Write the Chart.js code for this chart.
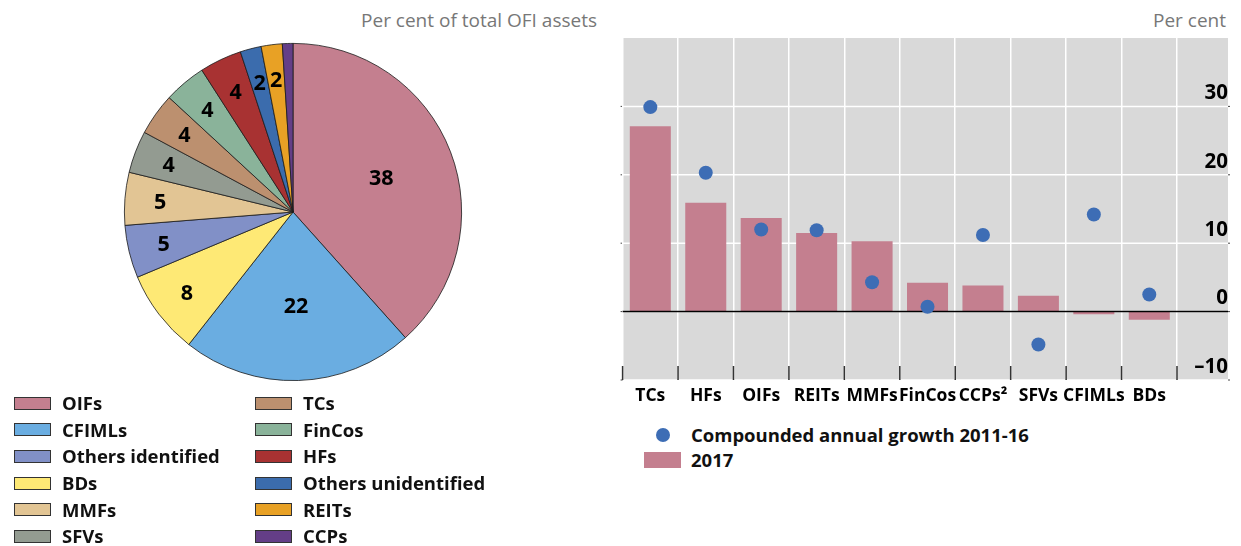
<!DOCTYPE html>
<html>
<head>
<meta charset="utf-8">
<script src="https://cdn.jsdelivr.net/npm/chart.js@4.4.1/dist/chart.umd.min.js"></script>
<style>
  body { margin: 0; width: 1241px; height: 546px; background: #fff; position: relative; overflow: hidden; font-family: "Open Sans", sans-serif; }
  #pieWrap { position: absolute; left: 0; top: 0; width: 600px; height: 400px; }
  #barWrap { position: absolute; left: 610px; top: 0; width: 631px; height: 420px; }
  .unit { position: absolute; top: 6px; font-size: 19px; color: #777; line-height: 28px; white-space: nowrap; }
  .leg { position: absolute; font-size: 18.5px; font-weight: 700; color: #111; line-height: 26px; white-space: nowrap; }
  .sw { position: absolute; box-sizing: border-box; }
</style>
</head>
<body>
<div class="unit" style="right:644px;">Per cent of total OFI assets</div>
<div class="unit" style="right:15px;">Per cent</div>
<div id="pieWrap"><canvas id="pie" width="600" height="400"></canvas></div>
<div id="barWrap"><canvas id="bars" width="631" height="420"></canvas></div>
<div id="pieLegend"></div>
<div id="barLegend"></div>

<script>
// Left panel: share of total OFI assets (slices in drawing order)
const pieLabels = ['OIFs', 'CFIMLs', 'BDs', 'Others identified', 'MMFs', 'SFVs', 'TCs', 'FinCos', 'HFs', 'Others unidentified', 'REITs', 'CCPs'];
const pieValues = [38, 22, 8, 5, 5, 4, 4, 4, 4, 2, 2, 1];
const pieColors = ['#C47F8F', '#6AADE1', '#FEE975', '#8190C7', '#E2C594', '#939B91', '#BC906F', '#8AB39A', '#A83232', '#3B6CAD', '#E8A125', '#643E87'];
// legend reads down the first column, then the second
const legendOrder = ['OIFs', 'CFIMLs', 'Others identified', 'BDs', 'MMFs', 'SFVs', 'TCs', 'FinCos', 'HFs', 'Others unidentified', 'REITs', 'CCPs'];

// Right panel: growth by sector
const sectors = ['TCs', 'HFs', 'OIFs', 'REITs', 'MMFs', 'FinCos', 'CCPs\u00b2', 'SFVs', 'CFIMLs', 'BDs'];
const growth2011to16 = [29.9, 20.3, 12.0, 11.9, 4.3, 0.7, 11.2, -4.8, 14.2, 2.5];
const growth2017 = [27.1, 15.9, 13.7, 11.5, 10.3, 4.2, 3.8, 2.3, -0.4, -1.2];
const yTicks = [-10, 0, 10, 20, 30];

const pink = '#C47F8F';
const blue = '#3D6DB5';

// values written inside the pie slices
const sliceValues = {
    id: 'sliceValues',
    afterDatasetsDraw(chart) {
        const ctx = chart.ctx;
        const meta = chart.getDatasetMeta(0);
        ctx.save();
        ctx.font = '700 21.5px "Open Sans"';
        ctx.fillStyle = '#000';
        ctx.textAlign = 'center';
        ctx.textBaseline = 'middle';
        meta.data.forEach((arc, i) => {
            const v = pieValues[i];
            if (v < 2) return;
            const p = arc.getProps(['x', 'y', 'startAngle', 'endAngle', 'outerRadius'], true);
            const mid = (p.startAngle + p.endAngle) / 2;
            const r = p.outerRadius * (v >= 20 ? 0.56 : 0.79);
            ctx.fillText(String(v), p.x + Math.cos(mid) * r, p.y + Math.sin(mid) * r + 1);
        });
        ctx.restore();
    }
};

new Chart(document.getElementById('pie').getContext('2d'), {
    type: 'pie',
    data: {
        labels: pieLabels,
        datasets: [{
            data: pieValues,
            backgroundColor: pieColors,
            borderColor: '#1a1a1a',
            borderWidth: 0.8
        }]
    },
    options: {
        responsive: false,
        animation: false,
        layout: { padding: { left: 124, right: 138, top: 43, bottom: 19 } },
        plugins: { legend: { display: false }, tooltip: { enabled: false } }
    },
    plugins: [sliceValues]
});

// grey plot background, white horizontal grid, zero line and bottom ticks
const plotDecor = {
    id: 'plotDecor',
    beforeDraw(chart) {
        const { ctx, chartArea: a, scales: { y } } = chart;
        ctx.save();
        ctx.fillStyle = '#D9D9D9';
        ctx.fillRect(a.left, a.top, y.right - a.left, a.bottom - a.top);
        ctx.strokeStyle = '#fff';
        ctx.lineWidth = 1.5;
        yTicks.forEach(v => {
            const py = y.getPixelForValue(v);
            ctx.beginPath();
            ctx.moveTo(a.left, py);
            ctx.lineTo(y.right, py);
            ctx.stroke();
        });
        // small marks on both edges
        ctx.strokeStyle = '#444';
        ctx.lineWidth = 1;
        yTicks.forEach(v => {
            const py = y.getPixelForValue(v);
            ctx.beginPath();
            ctx.moveTo(a.left - 2, py);
            ctx.lineTo(a.left, py);
            ctx.moveTo(y.right, py);
            ctx.lineTo(y.right + 2, py);
            ctx.stroke();
        });
        ctx.restore();
    },
    afterDatasetDraw(chart, args) {
        if (args.meta.type !== 'bar') return;
        const { ctx, chartArea: a, scales: { x, y } } = chart;
        const y0 = y.getPixelForValue(0);
        ctx.save();
        ctx.strokeStyle = '#000';
        ctx.lineWidth = 1.5;
        ctx.beginPath();
        ctx.moveTo(a.left, y0);
        ctx.lineTo(y.right, y0);
        ctx.stroke();
        const half = (x.getPixelForValue(1) - x.getPixelForValue(0)) / 2;
        ctx.strokeStyle = '#333';
        ctx.beginPath();
        for (let i = 0; i <= sectors.length; i++) {
            const px = x.getPixelForValue(0) - half + i * 2 * half;
            ctx.moveTo(px, a.bottom - 14);
            ctx.lineTo(px, a.bottom);
        }
        ctx.stroke();
        ctx.restore();
    }
};

new Chart(document.getElementById('bars').getContext('2d'), {
    type: 'bar',
    data: {
        labels: sectors,
        datasets: [{
            type: 'line',
            label: 'Compounded annual growth 2011-16',
            data: growth2011to16,
            showLine: false,
            pointRadius: 7,
            pointHoverRadius: 7,
            pointBorderWidth: 0,
            pointBackgroundColor: blue,
            borderColor: blue
        }, {
            type: 'bar',
            label: '2017',
            data: growth2017,
            backgroundColor: pink,
            barPercentage: 0.74,
            categoryPercentage: 1
        }]
    },
    options: {
        responsive: false,
        animation: false,
        layout: { padding: { left: 12.6, right: 13, top: 38, bottom: 0 } },
        plugins: { legend: { display: false }, tooltip: { enabled: false } },
        scales: {
            x: {
                grid: { color: '#fff', lineWidth: 1.5, drawTicks: false, offset: true },
                border: { display: false },
                ticks: {
                    color: '#000',
                    font: { family: 'Open Sans', size: 17.5, weight: '700' },
                    padding: 6,
                    autoSkip: false,
                    maxRotation: 0
                },
                afterFit: s => { s.height = 40; }
            },
            y: {
                position: 'right',
                min: -10,
                max: 40,
                grid: { display: false, drawTicks: false },
                border: { display: false },
                ticks: {
                    stepSize: 10,
                    color: '#000',
                    font: { family: 'Open Sans', size: 20.5, weight: '700' },
                    labelOffset: -13,
                    crossAlign: 'far',
                    padding: 10,
                    callback: v => (v === 40 ? '' : String(v).replace('-', '\u2013'))
                },
                afterFit: s => { s.width = 51; }
            }
        }
    },
    plugins: [plotDecor]
});

// legends
const pieLegend = document.getElementById('pieLegend');
legendOrder.forEach((name, k) => {
    const col = Math.floor(k / 6);
    const row = k % 6;
    const top = 390 + row * 26.67;
    const left = col === 0 ? 14 : 255;
    const sw = document.createElement('div');
    sw.className = 'sw';
    sw.style.cssText = `left:${left}px;top:${top + 6.5}px;width:37px;height:13px;background:${pieColors[pieLabels.indexOf(name)]};border:1px solid #333;`;
    const tx = document.createElement('div');
    tx.className = 'leg';
    tx.style.cssText = `left:${left + 48}px;top:${top}px;`;
    tx.textContent = name;
    pieLegend.appendChild(sw);
    pieLegend.appendChild(tx);
});

const barLegend = document.getElementById('barLegend');
barLegend.innerHTML =
    `<div class="sw" style="left:656px;top:428px;width:14px;height:14px;border-radius:50%;background:${blue};"></div>` +
    `<div class="leg" style="left:691px;top:422px;">Compounded annual growth 2011-16</div>` +
    `<div class="sw" style="left:644px;top:452px;width:37px;height:16px;background:${pink};"></div>` +
    `<div class="leg" style="left:691px;top:447px;">2017</div>`;
</script>
</body>
</html>
